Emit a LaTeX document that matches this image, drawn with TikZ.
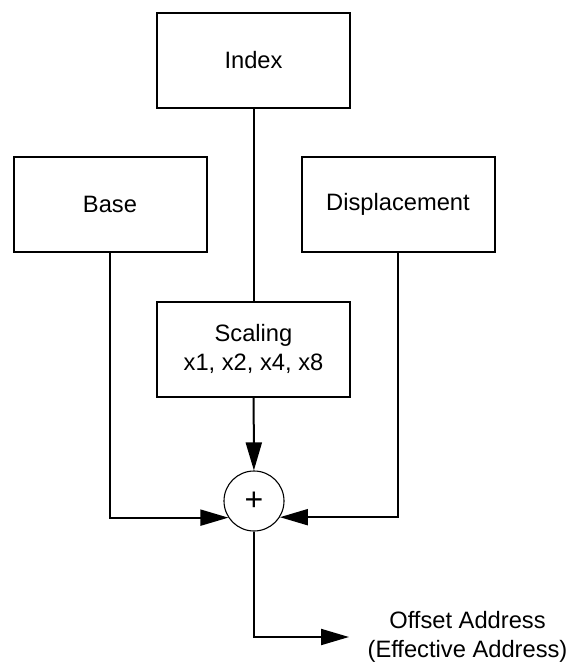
\documentclass[tikz,border=0pt]{standalone}
\usepackage{fontspec}
\setmainfont{Liberation Sans}
\usetikzlibrary{arrows.meta}
\begin{document}
\begin{tikzpicture}[x=1pt,y=-1pt,
  lbl/.style={font=\fontsize{23.7}{29}\selectfont,align=center,inner sep=0pt},
  box/.style={lbl,draw,line width=2pt,minimum width=193pt,minimum height=95pt},
  adder/.style={draw,circle,line width=1.1pt,minimum size=60pt,inner sep=0pt,font=\fontsize{32}{34}\selectfont},
  conn/.style={line width=2pt},
  arr/.style={conn,-{Triangle[length=28pt,width=16pt]}}]
\useasboundingbox (0,0) rectangle (572,662);
\node[box] (index) at (253.5,60.5) {Index};
\node[box] (base) at (110,204.5) {Base};
\node[box] (disp) at (398,204.5) {Displacement};
\node[box] (scal) at (253.5,349) {Scaling\\x1, x2, x4, x8};
\node[adder] (plus) at (254,501) {+};
\coordinate (tip) at (349,637);
\node[lbl] (out) at (467.5,637) {Offset Address\\(Effective Address)};
\draw[conn] (index) -- (scal);
\draw[arr] (scal) -- (plus);
\draw[arr] (base.south) |- (plus.-147.8);
\draw[arr] (disp.south) |- (plus.-32.2);
\draw[arr] (plus.south) |- (tip);
\end{tikzpicture}
\end{document}
